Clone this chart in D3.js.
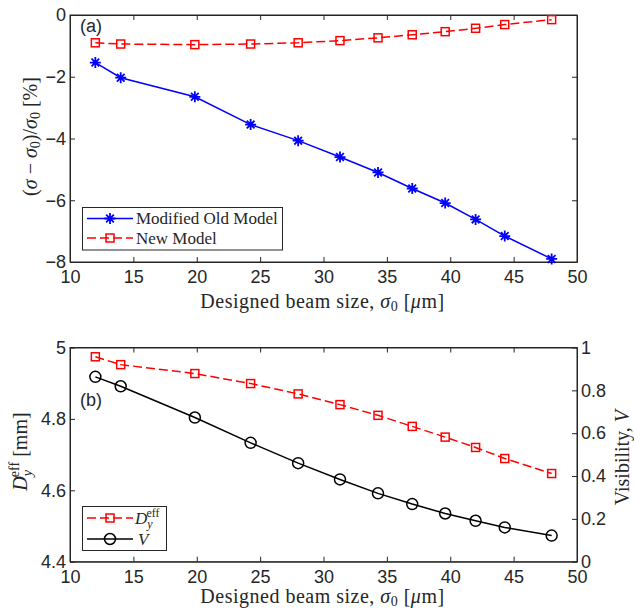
<!DOCTYPE html>
<html lang="en">
<head>
<meta charset="UTF-8">
<title>Beam size chart</title>
<script src="https://cdn.jsdelivr.net/npm/d3@7"></script>
<style>
  body { margin: 0; background: #fff; }
</style>
</head>
<body>
<svg id="chart" width="634" height="610"></svg>
<script>
// designed beam size (x), shared by both panels
const beamSize = [12, 14, 19.85, 24.25, 28, 31.3, 34.3, 37, 39.6, 42, 44.3, 48];

// panel (a)
const oldModel = [-1.54, -2.03, -2.65, -3.55, -4.07, -4.6, -5.1, -5.62, -6.09, -6.62, -7.16, -7.9];
const newModel = [-0.9, -0.94, -0.96, -0.94, -0.9, -0.83, -0.74, -0.64, -0.54, -0.43, -0.31, -0.15];

// panel (b)
const dEff = [4.974, 4.952, 4.927, 4.899, 4.870, 4.840, 4.81, 4.779, 4.749, 4.72, 4.689, 4.647];
const visibility = [0.863, 0.819, 0.673, 0.555, 0.46, 0.384, 0.319, 0.269, 0.225, 0.191, 0.16, 0.122];

const xTicks = [10, 15, 20, 25, 30, 35, 40, 45, 50];
const yTicksA = [-8, -6, -4, -2, 0];
const yTicksB = [4.4, 4.6, 4.8, 5];
const vTicks = [0, 0.2, 0.4, 0.6, 0.8, 1];

const SANS = "'Liberation Sans', Arial, Helvetica, sans-serif";
const SERIF = "'Liberation Serif', 'Times New Roman', 'DejaVu Serif', serif";

const svg = d3.select("#chart");
svg.append("rect").attr("width", 634).attr("height", 610).attr("fill", "#fff");

const axisColor = "#262626";
const left = 70, right = 577;
const fmt = d3.format("");

const x = d3.scaleLinear().domain([10, 50]).range([left, right]);

function styleAxis(a) {
    a.attr("font-family", SANS).attr("font-size", 18);
    a.selectAll("line,path").attr("stroke", axisColor);
    a.selectAll("text").attr("fill", axisColor);
}

function frame(g, y, yTicks, top, bottom, rightTicks) {
    g.append("g").attr("transform", `translate(0,${bottom})`)
        .call(d3.axisBottom(x).tickValues(xTicks).tickFormat(fmt).tickSizeInner(-5).tickSizeOuter(0).tickPadding(8.5))
        .call(styleAxis);
    g.append("g").attr("transform", `translate(0,${top})`)
        .call(d3.axisTop(x).tickValues(xTicks).tickFormat("").tickSizeInner(-5).tickSizeOuter(0))
        .call(styleAxis);
    g.append("g").attr("transform", `translate(${left},0)`)
        .call(d3.axisLeft(y).tickValues(yTicks).tickFormat(fmt).tickSizeInner(-5).tickSizeOuter(0).tickPadding(4))
        .call(styleAxis);
    if (!rightTicks) {
        g.append("g").attr("transform", `translate(${right},0)`)
            .call(d3.axisRight(y).tickValues(yTicks).tickFormat("").tickSizeInner(-5).tickSizeOuter(0))
            .call(styleAxis);
    }
    g.append("rect").attr("x", left).attr("y", top).attr("width", right - left).attr("height", bottom - top)
        .attr("fill", "none").attr("stroke", axisColor).attr("stroke-width", 1);
}

function asterisk(r) {
    const a = r * 0.7;
    return `M${-r},0L${r},0M0,${-r}L0,${r}M${-a},${-a}L${a},${a}M${-a},${a}L${a},${-a}`;
}

function drawSeries(g, xs, ys, xScale, yScale, opts) {
    const pts = xs.map((d, i) => [xScale(d), yScale(ys[i])]);
    g.append("path").datum(pts)
        .attr("fill", "none").attr("stroke", opts.color).attr("stroke-width", 1.5)
        .attr("stroke-dasharray", opts.dash || null)
        .attr("d", d3.line());
    drawMarkers(g, pts, opts);
}

function drawMarkers(g, pts, opts) {
    const m = g.append("g");
    pts.forEach(p => {
        if (opts.marker === "square") {
            m.append("rect").attr("x", p[0] - 4).attr("y", p[1] - 4).attr("width", 8).attr("height", 8)
                .attr("fill", "none").attr("stroke", opts.color).attr("stroke-width", 1.5);
        } else if (opts.marker === "circle") {
            m.append("circle").attr("cx", p[0]).attr("cy", p[1]).attr("r", 5.5)
                .attr("fill", "none").attr("stroke", opts.color).attr("stroke-width", 1.5);
        } else {
            m.append("path").attr("transform", `translate(${p[0]},${p[1]})`).attr("d", asterisk(5.5))
                .attr("fill", "none").attr("stroke", opts.color).attr("stroke-width", 1.8);
        }
    });
}

function legendRow(g, y, opts) {
    g.append("line").attr("x1", 87).attr("x2", 133).attr("y1", y).attr("y2", y)
        .attr("stroke", opts.color).attr("stroke-width", 1.5).attr("stroke-dasharray", opts.dash || null);
    drawMarkers(g, [[110, y]], opts);
}

function serifText(g, size) {
    return g.append("text").attr("font-family", SERIF).attr("font-size", size).attr("fill", axisColor);
}

const it = (t, txt) => t.append("tspan").attr("font-style", "italic").text(txt);
const sub = (t, txt) => t.append("tspan").attr("baseline-shift", "-3").attr("font-size", "70%").text(txt);

// ---------------- panel (a) ----------------
const topA = 15, botA = 262;
const yA = d3.scaleLinear().domain([-8, 0]).range([botA, topA]);
const gA = svg.append("g");
frame(gA, yA, yTicksA, topA, botA, false);

const oldOpts = { color: "#0000ff", marker: "asterisk" };
const newOpts = { color: "#ff0000", marker: "square", dash: "9,4" };
drawSeries(gA, beamSize, oldModel, x, yA, oldOpts);
drawSeries(gA, beamSize, newModel, x, yA, newOpts);

gA.append("text").attr("font-family", SANS).attr("font-size", 18).attr("fill", axisColor)
    .attr("x", 80).attr("y", 32).text("(a)");

function xLabel(g, yPos) {
    const t = serifText(g, 20).attr("x", (left + right) / 2 - 1).attr("y", yPos)
        .attr("text-anchor", "middle").attr("letter-spacing", 0.5);
    t.append("tspan").text("Designed beam size, ");
    it(t, "σ");
    sub(t, "0");
    t.append("tspan").text(" [");
    it(t, "μ");
    t.append("tspan").text("m]");
}
xLabel(gA, 308);

const ylA = serifText(gA, 20).attr("text-anchor", "middle")
    .attr("transform", `translate(37,${(topA + botA) / 2 - 2}) rotate(-90)`);
ylA.append("tspan").text("(");
it(ylA, "σ");
ylA.append("tspan").text(" − ");
it(ylA, "σ");
sub(ylA, "0");
ylA.append("tspan").text(")/");
it(ylA, "σ");
sub(ylA, "0");
ylA.append("tspan").text(" [%]");

// legend (a)
gA.append("rect").attr("x", 82.5).attr("y", 207.5).attr("width", 200).attr("height", 42.5)
    .attr("fill", "#fff").attr("stroke", axisColor);
legendRow(gA, 218.5, oldOpts);
legendRow(gA, 238, newOpts);
serifText(gA, 17).attr("x", 136).attr("y", 224).text("Modified Old Model");
serifText(gA, 17).attr("x", 136).attr("y", 243.5).text("New Model");

// ---------------- panel (b) ----------------
const topB = 347.5, botB = 561.7;
const yB = d3.scaleLinear().domain([4.4, 5]).range([botB, topB]);
const yV = d3.scaleLinear().domain([0, 1]).range([botB, topB]);
const gB = svg.append("g");
frame(gB, yB, yTicksB, topB, botB, true);
gB.append("g").attr("transform", `translate(${right},0)`)
    .call(d3.axisRight(yV).tickValues(vTicks).tickFormat(fmt).tickSizeInner(-5).tickSizeOuter(0).tickPadding(4))
    .call(styleAxis);

const dOpts = { color: "#ff0000", marker: "square", dash: "9,4" };
const vOpts = { color: "#000000", marker: "circle" };
drawSeries(gB, beamSize, dEff, x, yB, dOpts);
drawSeries(gB, beamSize, visibility, x, yV, vOpts);

gB.append("text").attr("font-family", SANS).attr("font-size", 18).attr("fill", axisColor)
    .attr("x", 80).attr("y", 406).text("(b)");
xLabel(gB, 603);

const ylB = serifText(gB, 20).attr("text-anchor", "middle")
    .attr("transform", `translate(27,${(topB + botB) / 2 - 3}) rotate(-90)`);
it(ylB, "D");
ylB.append("tspan").attr("font-style", "italic").attr("font-size", "70%").attr("dy", 5).text("y");
ylB.append("tspan").attr("font-size", "70%").attr("dx", -7).attr("dy", -13).text("eff");
ylB.append("tspan").attr("dy", 8).text(" [mm]");

const vl = serifText(gB, 20).attr("text-anchor", "middle")
    .attr("transform", `translate(629,${(topB + botB) / 2 + 3}) rotate(-90)`);
vl.append("tspan").text("Visibility, ");
it(vl, "V");

// legend (b)
gB.append("rect").attr("x", 82.5).attr("y", 506.5).attr("width", 84).attr("height", 44)
    .attr("fill", "#fff").attr("stroke", axisColor);
legendRow(gB, 518, dOpts);
legendRow(gB, 539, vOpts);
const lt = serifText(gB, 17).attr("x", 135).attr("y", 524);
it(lt, "D");
lt.append("tspan").attr("font-style", "italic").attr("font-size", "70%").attr("dy", 4).text("y");
lt.append("tspan").attr("font-size", "70%").attr("dx", -6).attr("dy", -11).text("eff");
serifText(gB, 17).attr("x", 138).attr("y", 545).attr("font-style", "italic").text("V");
</script>
</body>
</html>
